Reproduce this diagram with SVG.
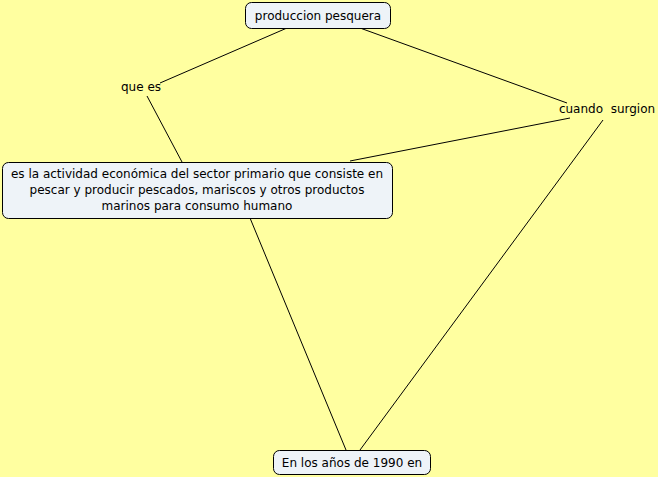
<svg xmlns="http://www.w3.org/2000/svg" width="658" height="477" viewBox="0 0 658 477">
<style>
.bg{fill:#ffffa0}
.node{fill:#eef3f8;stroke:#000;stroke-width:1}
.t{font-family:"DejaVu Sans",Verdana,sans-serif;font-size:12px;fill:#000;text-anchor:middle}
.c{stroke:#000;stroke-width:1;fill:none}
</style>
<rect class="bg" x="0" y="0" width="658" height="477"/>
<g id="connectors">
<line class="c" x1="287" y1="28" x2="160" y2="83"/>
<line class="c" x1="147" y1="96" x2="182" y2="162"/>
<line class="c" x1="360" y1="28" x2="567" y2="103"/>
<line class="c" x1="570" y1="118" x2="350" y2="161"/>
<line class="c" x1="603" y1="120" x2="360" y2="450"/>
<line class="c" x1="250" y1="218" x2="346" y2="450"/>
</g>
<g id="node-produccion">
<rect class="node" x="245.5" y="2.5" width="145" height="26" rx="6"/>
<text class="t" x="318" y="20">produccion pesquera</text>
</g>
<g id="node-quees">
<text class="t" x="141" y="91">que es</text>
</g>
<g id="node-cuando">
<text class="t" x="607" y="113" xml:space="preserve">cuando  surgion</text>
</g>
<g id="node-actividad">
<rect class="node" x="2.5" y="162.5" width="390" height="56" rx="6"/>
<text class="t" x="197" y="178">es la actividad económica del sector primario que consiste en</text>
<text class="t" x="197" y="194">pescar y producir pescados, mariscos y otros productos</text>
<text class="t" x="197" y="210">marinos para consumo humano</text>
</g>
<g id="node-1990">
<rect class="node" x="273.5" y="450.5" width="157" height="24" rx="6"/>
<text class="t" x="352" y="467">En los años de 1990 en</text>
</g>
</svg>
